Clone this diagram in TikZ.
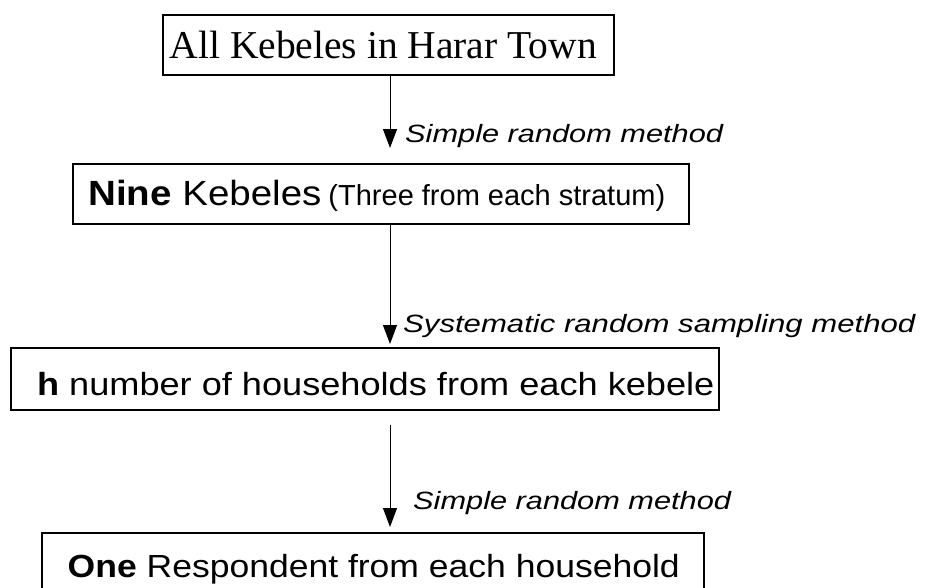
\documentclass[tikz,border=0pt]{standalone}
\usepackage{fontspec}
\setmainfont{Liberation Serif}
\newfontfamily\sansf{Liberation Sans}
\usetikzlibrary{arrows.meta}
\begin{document}
\begin{tikzpicture}[x=1pt,y=-1pt,
  boxsty/.style={draw, line width=1.5pt, anchor=north west, inner sep=0pt},
  arr/.style={line width=1pt, -{Triangle[length=19pt,width=14pt]}},
  lab/.style={anchor=base west, inner sep=0pt, font=\sansf\itshape\fontsize{25}{28}\selectfont}
]
\useasboundingbox (0,0) rectangle (927,587);
\clip (0,0) rectangle (927,587);

\node[boxsty, minimum width=451pt, text height=43.7pt, text depth=16.3pt,
  font=\fontsize{39.5}{44}\selectfont]
  (b1) at (162,14) {\hspace*{-10pt}All Kebeles in Harar Town};
\node[boxsty, minimum width=616pt, text height=42pt, text depth=18pt,
  font=\sansf\fontsize{35}{40}\selectfont]
  (b2) at (72,163) {\hspace*{-8pt}\scalebox{1.1}[1]{\textbf{Nine} Kebeles}\hspace{7pt}\fontsize{29}{34}\selectfont(Three from each stratum)};
\node[boxsty, minimum width=708pt, text height=48pt, text depth=14pt,
  font=\sansf\fontsize{32}{38}\selectfont]
  (b3) at (10,347) {\hspace*{22pt}\scalebox{1.13}[1]{\textbf{h} number of households from each kebele}};
\node[boxsty, minimum width=662pt, text height=45pt, text depth=21pt,
  font=\sansf\fontsize{32}{38}\selectfont]
  (b4) at (41,532) {\hspace*{2pt}\scalebox{1.11}[1]{\textbf{One} Respondent from each household}};

\coordinate (ax) at (390,0);
\draw[arr, shorten >=15pt] (ax |- b1.south) -- (ax |- b2.north);
\draw[arr, shorten >=3pt] (ax |- b2.south) -- (ax |- b3.north);
\draw[arr, shorten <=14pt, shorten >=5pt] (ax |- b3.south) -- (ax |- b4.north);

\node[lab] (l1) at (405,142) {\scalebox{1.23}[1]{Simple random method}};
\node[lab] (l2) at (403,332) {\scalebox{1.245}[1]{Systematic random sampling method}};
\node[lab] (l3) at (413,509) {\scalebox{1.23}[1]{Simple random method}};
\end{tikzpicture}
\end{document}
